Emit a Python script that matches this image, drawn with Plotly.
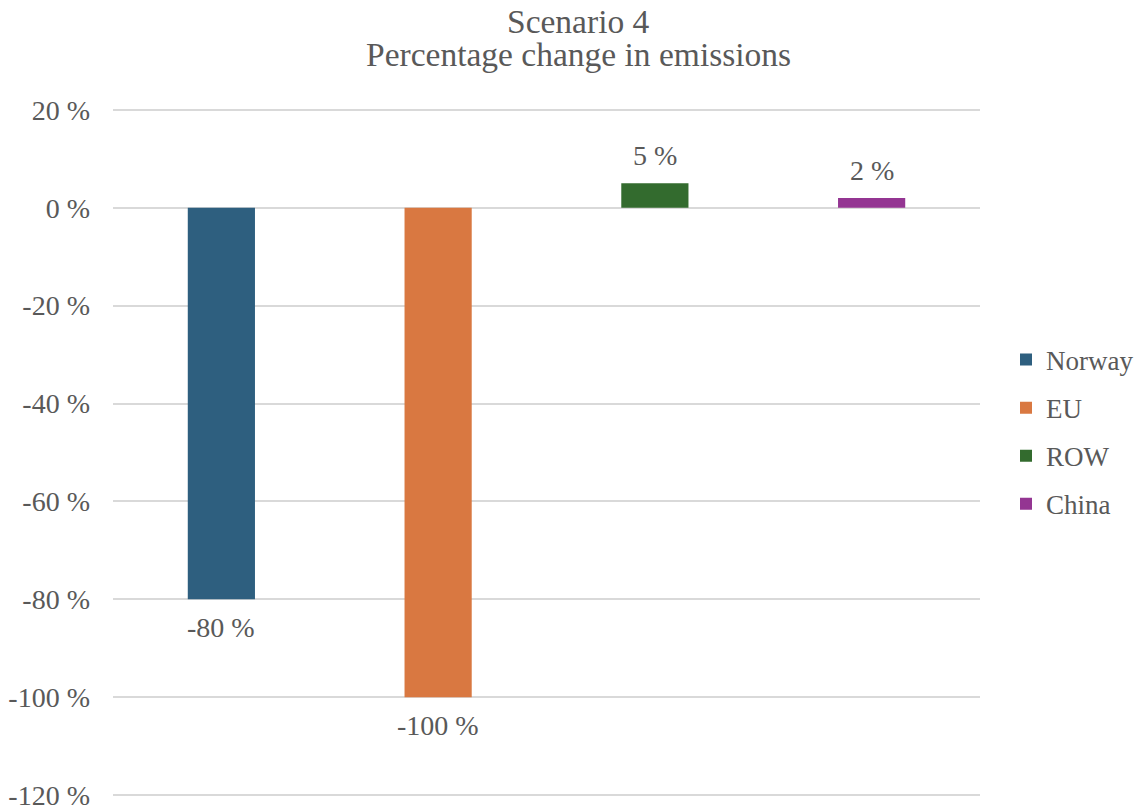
import plotly.graph_objects as go

regions = ["Norway", "EU", "ROW", "China"]
changes = [-80, -100, 5, 2]
colors = ["#2E5F7F", "#D97841", "#336B2E", "#943592"]
y_ticks = [20, 0, -20, -40, -60, -80, -100, -120]
title_lines = ["Scenario 4", "Percentage change in emissions"]

font_family = "Liberation Serif, Times New Roman, serif"
text_color = "#595959"

W, H = 1141, 807
M_L, M_R, M_T, M_B = 113, 161, 105, 7
plot_w = W - M_L - M_R
plot_h = H - M_T - M_B

fig = go.Figure()
for name, val, col in zip(regions, changes, colors):
    fig.add_trace(go.Bar(
        x=[name], y=[val], name=name, legendgroup=name,
        marker=dict(color=col, line=dict(width=0)),
        width=0.31,
    ))
    # value label just beyond the end of each bar
    fig.add_annotation(
        x=name, y=val, text=f"{val} %", showarrow=False,
        yanchor="bottom" if val >= 0 else "top",
        yshift=10 if val >= 0 else -11,
        font=dict(family=font_family, size=28, color=text_color),
    )

# two-line centred heading, placed in pixel terms above the plot area
for line, y_px in zip(title_lines, [21, 54]):
    fig.add_annotation(
        text=line, showarrow=False,
        xref="paper", x=(578 - M_L) / plot_w,
        yref="paper", y=1 + (M_T - y_px) / plot_h,
        xanchor="center", yanchor="middle",
        font=dict(family=font_family, size=33.5, color=text_color),
    )

fig.update_layout(
    width=W, height=H,
    margin=dict(l=M_L, r=M_R, t=M_T, b=M_B, autoexpand=False),
    paper_bgcolor="white", plot_bgcolor="white",
    barmode="overlay",
    font=dict(family=font_family, color=text_color),
    legend=dict(
        x=(1006 - M_L) / plot_w, y=1 - (432 - M_T) / plot_h,
        xanchor="left", yanchor="middle",
        font=dict(family=font_family, size=27, color=text_color),
        tracegroupgap=10, itemwidth=30,
    ),
    showlegend=True,
)
fig.update_xaxes(showticklabels=False, showgrid=False, zeroline=False,
                 showline=False, ticks="")
fig.update_yaxes(
    range=[-121, 21], tickvals=y_ticks, ticktext=[f"{v} %" for v in y_ticks],
    showgrid=True, gridcolor="#D9D9D9", gridwidth=1.5,
    zeroline=False, showline=False, ticks="",
    tickfont=dict(family=font_family, size=28, color=text_color),
    ticklabelstandoff=22, ticklabeloverflow="allow",
)

fig.write_html("out.html")
